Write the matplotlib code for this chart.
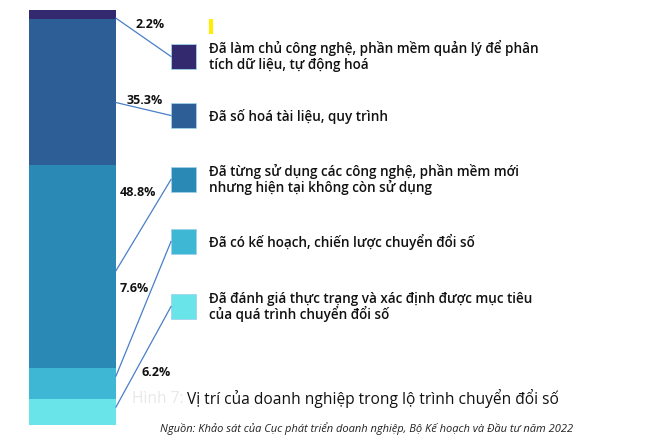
import matplotlib
matplotlib.use("Agg")
import matplotlib.pyplot as plt
from matplotlib.patches import Rectangle

# ---- data ----
categories = [
    "Đã làm chủ công nghệ, phần mềm quản lý để phân\ntích dữ liệu, tự động hoá",
    "Đã số hoá tài liệu, quy trình",
    "Đã từng sử dụng các công nghệ, phần mềm mới\nnhưng hiện tại không còn sử dụng",
    "Đã có kế hoạch, chiến lược chuyển đổi số",
    "Đã đánh giá thực trạng và xác định được mục tiêu\ncủa quá trình chuyển đổi số",
]
values = [2.2, 35.3, 48.8, 7.6, 6.2]
value_labels = ["2.2%", "35.3%", "48.8%", "7.6%", "6.2%"]
colors = ["#33296f", "#2d5e96", "#2b89b5", "#3db7d3", "#69e4e9"]
title_prefix = "Hình 7:"
title = "Vị trí của doanh nghiệp trong lộ trình chuyển đổi số"
source = "Nguồn: Khảo sát của Cục phát triển doanh nghiệp, Bộ Kế hoạch và Đầu tư năm 2022"

W, H = 660, 444
fig = plt.figure(figsize=(W / 100, H / 100), dpi=100)
fig.patch.set_facecolor("white")

FONT = ["Open Sans", "DejaVu Sans"]

# stacked bar axes
bx0, bx1, by0, by1 = 29, 116, 10, 425
ax = fig.add_axes([bx0 / W, (H - by1) / H, (bx1 - bx0) / W, (by1 - by0) / H])
total = sum(values)
bottom = total
anchors = []
anchor_frac = [0.9, 0.57, 0.52, 0.26, 0.3]  # where the leader leaves each segment (from top)
for v, c, f in zip(values, colors, anchor_frac):
    bottom -= v
    ax.bar(0, v, bottom=bottom, width=1.0, color=c, edgecolor="none")
    anchors.append(bottom + v * (1 - f))
ax.set_xlim(-0.5, 0.5)
ax.set_ylim(0, total)
ax.axis("off")

# overlay axes in pixel coordinates
ov = fig.add_axes([0, 0, 1, 1], zorder=5)
ov.set_xlim(0, W)
ov.set_ylim(H, 0)
ov.axis("off")
ov.patch.set_alpha(0)

def data_to_px(x, y):
    disp = ax.transData.transform((x, y))
    return ov.transData.inverted().transform(disp)

sq_x, sq_size = 171, 25
sq_tops = [44, 103, 167, 229, 294]
label_pos = [(150, 24), (145, 100), (138, 192), (134, 288), (156, 372)]

for i, (lab, c, m) in enumerate(zip(categories, colors, anchors)):
    top = sq_tops[i]
    cy = top + sq_size / 2
    ov.add_patch(Rectangle((sq_x, top), sq_size, sq_size, facecolor=c,
                           edgecolor="#9fd3ec", linewidth=0.6))
    px, py = data_to_px(0.5, m)
    ov.plot([px, sq_x], [py, cy], color="#4a7fc8", lw=0.9)
    lines = lab.split("\n")
    baselines = [cy + 5] if len(lines) == 1 else [cy - 4, cy + 12.5]
    for ln, by in zip(lines, baselines):
        ov.text(209, by, ln, ha="left", va="baseline",
                fontsize=9.75, fontweight="semibold", family=FONT,
                color="#111111")
    lx, ly = label_pos[i]
    ov.text(lx, ly, value_labels[i], ha="center", va="center",
            fontsize=9, fontweight="bold", family=FONT, color="#111111")

# yellow mark
ov.add_patch(Rectangle((209, 19), 4, 15, facecolor="#ffee00", edgecolor="none"))

# title & source
ov.text(184, 399, title_prefix, ha="right", va="center", fontsize=11.2,
        family=FONT, color="#e8e8e8")
ov.text(187, 399, title, ha="left", va="center", fontsize=11.2,
        family=FONT, color="#111111")
ov.text(367, 429, source, ha="center", va="center", fontsize=8,
        style="italic", family=FONT, color="#222222")

fig.savefig("out.png", dpi=100)
